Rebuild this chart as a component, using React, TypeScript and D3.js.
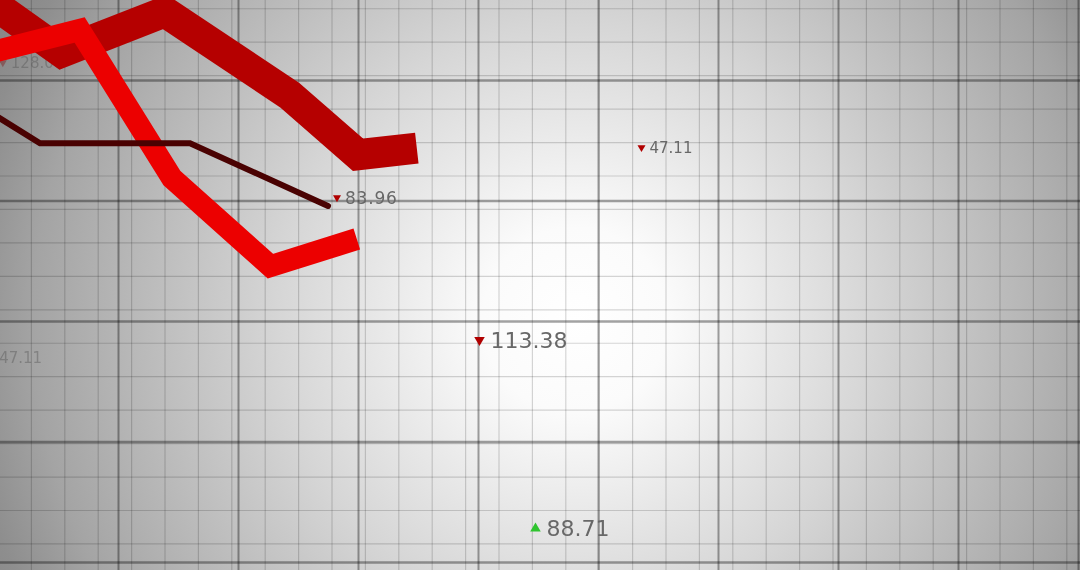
import { useEffect, useRef } from "react";
import * as d3 from "d3";

const W = 1080;
const H = 570;

// x is measured in periods (one major grid cell each), y in price points
const periodTicks = [0, 1, 2, 3, 4, 5, 6, 7, 8, 9];
const priceTicks = [60, 80, 100, 120, 140];

// thick dark red band
const bandX = [-0.32, 0.53, 1.39, 2.43, 3.0, 3.49];
const bandY = [156.6, 144.6, 151.3, 137.5, 127.6, 128.7];

// bright red band
const redX = [-0.15, 0.68, 1.45, 2.27, 2.99];
const redY = [144.1, 148.3, 123.7, 109.1, 113.6];

// thin dark line
const thinX = [-0.07, 0.35, 1.6, 2.75];
const thinY = [134.7, 129.5, 129.5, 119.1];

// ticker labels
const labelText = ["128.04", "47.11", "83.96", "47.11", "113.38", "88.71"];
const labelX = [0.04, 0.01, 2.825, 5.3625, 4.0125, 4.479];
const labelY = [142.9, 94.0, 120.5, 128.8, 96.85, 65.56];
const labelDir = ["down", "none", "down", "down", "down", "up"];
const labelTier = ["ghost", "ghost", "small", "small", "big", "big"];

export default function App() {
  const svgRef = useRef<SVGSVGElement | null>(null);

  useEffect(() => {
    if (!svgRef.current) return;
    const svg = d3.select(svgRef.current).attr("width", W).attr("height", H);
    svg.selectAll("*").remove();

    const x = d3.scaleLinear().domain([0, 9]).range([-2, 1078]);
    const y = d3.scaleLinear().domain([60, 140]).range([562, 80]);

    const defs = svg.append("defs");
    const grad = defs.append("radialGradient")
      .attr("id", "bg")
      .attr("gradientUnits", "userSpaceOnUse")
      .attr("cx", 575).attr("cy", 320).attr("r", 660);
    [
      [0, "#ffffff"], [0.14, "#fbfbfb"], [0.45, "#d6d6d6"],
      [0.82, "#a4a4a4"], [0.93, "#8e8e8e"], [1, "#868686"],
    ].forEach(([o, c]) => grad.append("stop").attr("offset", o as number).attr("stop-color", c as string));

    svg.append("rect").attr("width", W).attr("height", H).attr("fill", "url(#bg)");

    // minor grid, a bit over a quarter of a major cell
    const minorStepX = 33.4 / 120;
    const minorX = d3.range(0, 9.2, minorStepX);
    const minorStepY = 20 * 33.45 / 120.5;
    const minorY = d3.range(60 + minorStepY * 0.54 - minorStepY, 160, minorStepY);

    const grid = svg.append("g");
    grid.selectAll(".vx").data(minorX).join("line")
      .attr("x1", d => x(d)).attr("x2", d => x(d))
      .attr("y1", 0).attr("y2", H)
      .attr("stroke", "rgba(0,0,0,0.16)").attr("stroke-width", 1.2);
    grid.selectAll(".hy").data(minorY).join("line")
      .attr("y1", d => y(d)).attr("y2", d => y(d))
      .attr("x1", 0).attr("x2", W)
      .attr("stroke", "rgba(0,0,0,0.16)").attr("stroke-width", 1.2);

    grid.append("g")
      .call(d3.axisBottom(x).tickValues(periodTicks).tickSize(-H).tickFormat(() => ""))
      .attr("transform", `translate(0,${H})`)
      .call(g => g.select(".domain").remove())
      .call(g => g.selectAll("line").attr("stroke", "rgba(0,0,0,0.36)").attr("stroke-width", 2));
    grid.append("g")
      .call(d3.axisLeft(y).tickValues(priceTicks).tickSize(-W).tickFormat(() => ""))
      .call(g => g.select(".domain").remove())
      .call(g => g.selectAll("line").attr("stroke", "rgba(0,0,0,0.36)").attr("stroke-width", 2.5));

    const labels = labelText.map((t, i) => ({
      text: t, x: labelX[i], y: labelY[i], dir: labelDir[i], tier: labelTier[i],
    }));

    const drawLabel = (layer: d3.Selection<SVGGElement, unknown, null, undefined>, d: typeof labels[number]) => {
      const size = d.tier === "big" ? 22 : d.tier === "small" ? (d.text.includes("1") ? 15 : 17) : 15;
      const cx = x(d.x);
      const cy = y(d.y);
      const g = layer.append("g").attr("transform", `translate(${cx},${cy})`);
      const textColor = d.tier === "ghost" ? "rgba(80,80,80,0.4)" : "#686868";
      if (d.dir !== "none") {
        const area = d.tier === "big" ? 48 : 28;
        g.append("path")
          .attr("d", d3.symbol(d3.symbolTriangle, area)())
          .attr("transform", d.dir === "down" ? "rotate(180)" : "")
          .attr("fill", d.tier === "ghost" ? "rgba(120,0,0,0.35)" : d.dir === "up" ? "#2fc42f" : "#b00000");
      }
      const dx = d.dir === "none" ? 0 : d.tier === "big" ? 11 : 8;
      g.append("text")
        .attr("x", dx)
        .attr("y", size * 0.36)
        .attr("font-family", "'DejaVu Sans', sans-serif")
        .attr("font-size", size)
        .attr("letter-spacing", d.tier === "small" && !d.text.includes("1") ? 0.8 : 0)
        .attr("fill", textColor)
        .text(d.text);
    };

    const ghostLayer = svg.append("g");
    labels.filter(d => d.tier === "ghost").forEach(d => drawLabel(ghostLayer, d));

    const line = d3.line<[number, number]>()
      .x(d => x(d[0]))
      .y(d => y(d[1]));

    const series = [
      { xs: bandX, ys: bandY, color: "#b50000", width: 31, cap: "butt" },
      { xs: redX, ys: redY, color: "#ec0000", width: 22, cap: "butt" },
      { xs: thinX, ys: thinY, color: "#4a0202", width: 6, cap: "round" },
    ];

    svg.append("g").selectAll("path").data(series).join("path")
      .attr("d", s => line(s.xs.map((v, i) => [v, s.ys[i]] as [number, number])))
      .attr("fill", "none")
      .attr("stroke", s => s.color)
      .attr("stroke-width", s => s.width)
      .attr("stroke-linejoin", "miter")
      .attr("stroke-miterlimit", 6)
      .attr("stroke-linecap", s => s.cap);

    const labelLayer = svg.append("g");
    labels.filter(d => d.tier !== "ghost").forEach(d => drawLabel(labelLayer, d));
  }, []);

  return (
    <div style={{ position: "fixed", left: 0, top: 0, width: W, height: H, overflow: "hidden" }}>
      <svg ref={svgRef} style={{ display: "block" }}></svg>
    </div>
  );
}
